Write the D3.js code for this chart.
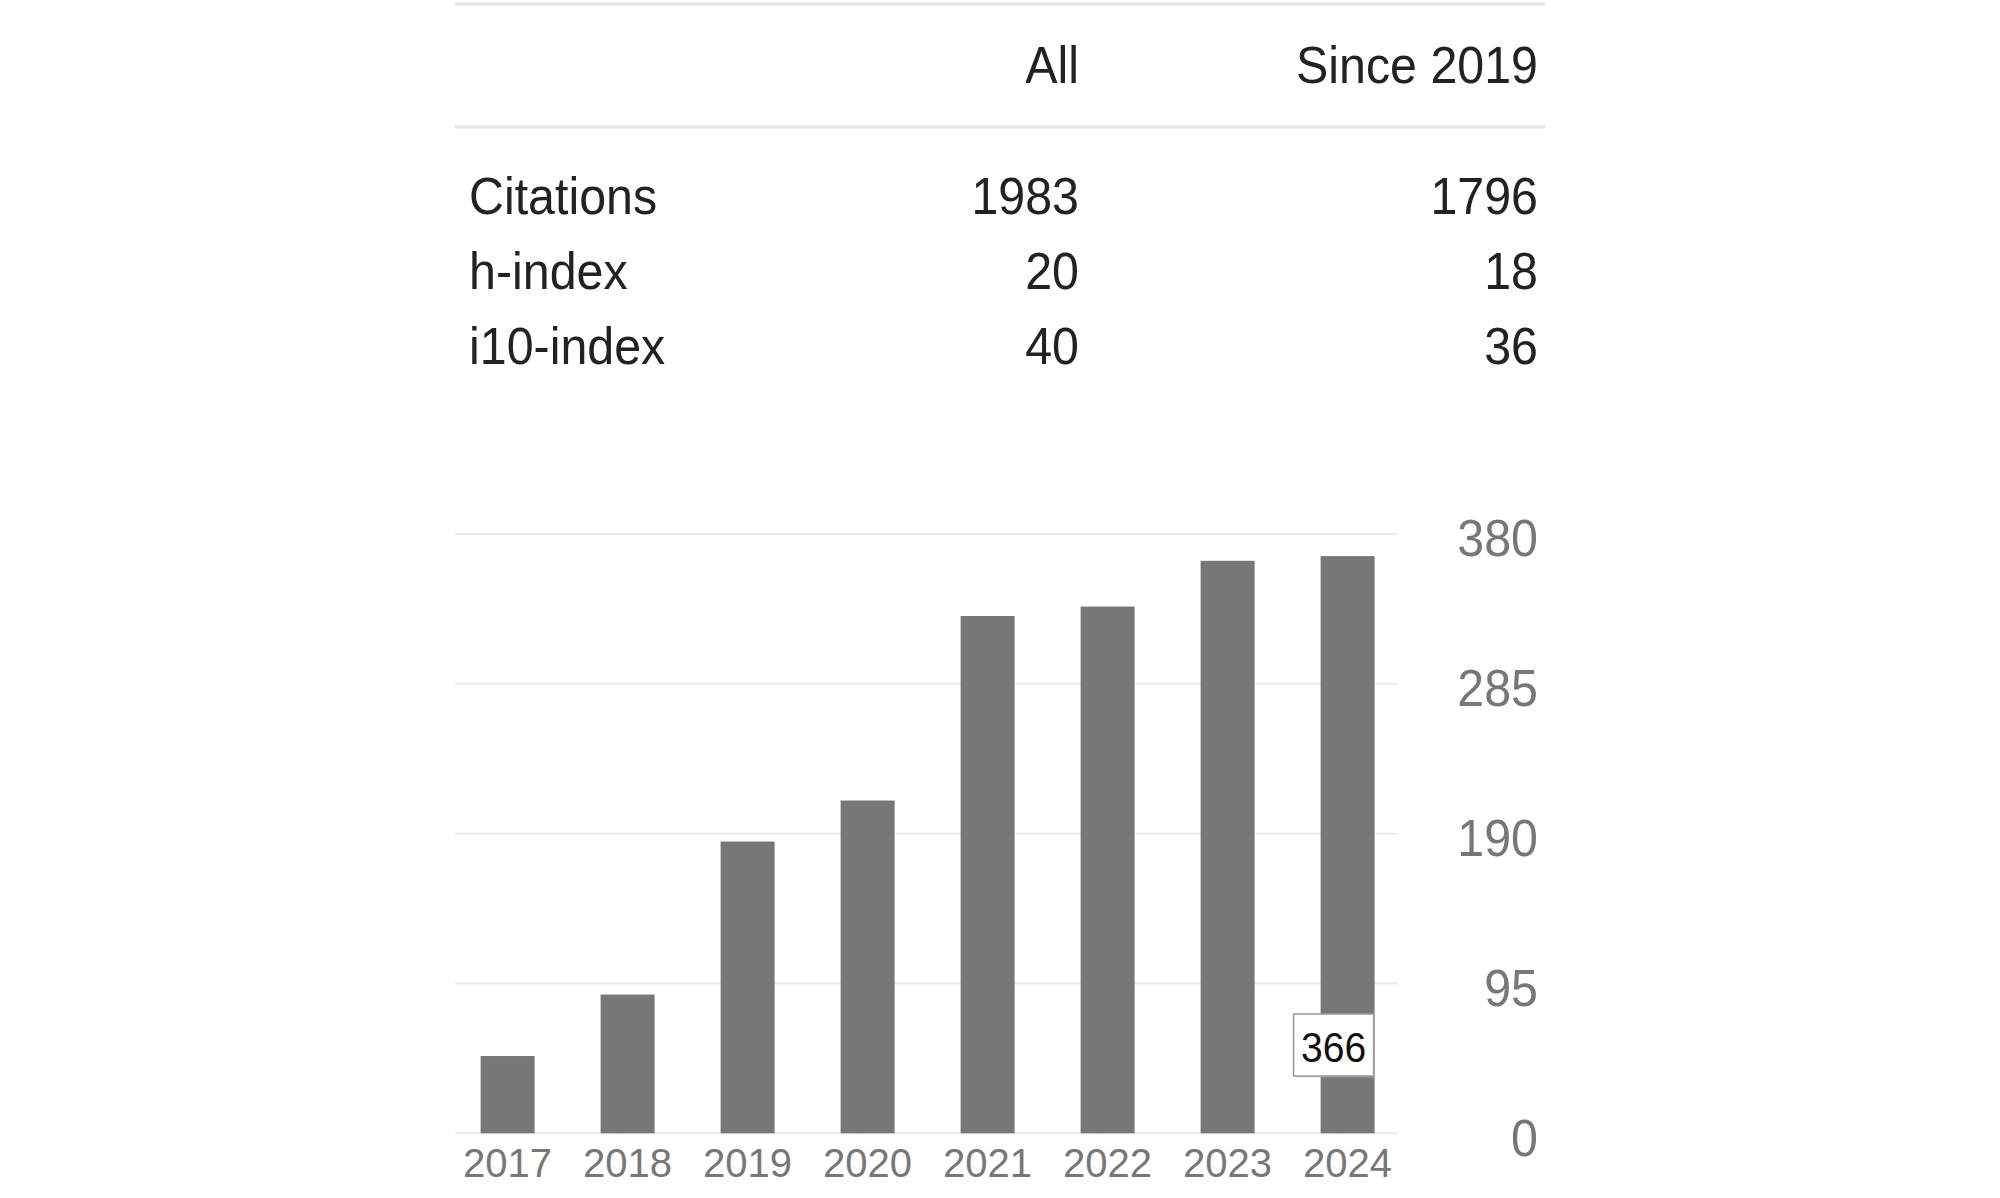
<!DOCTYPE html>
<html>
<head>
<meta charset="utf-8">
<script src="https://cdn.jsdelivr.net/npm/d3@7"></script>
<style>
  html, body { margin: 0; padding: 0; background: #fff; }
  svg { display: block; font-family: "Liberation Sans", Arial, sans-serif; }
</style>
</head>
<body>
<svg id="chart" width="2000" height="1198"></svg>
<script>
// ---- data ----
const tableColumns = ["All", "Since 2019"];
const tableRows = ["Citations", "h-index", "i10-index"];
const allValues = [1983, 20, 40];
const sinceValues = [1796, 18, 36];

const years = ["2017", "2018", "2019", "2020", "2021", "2022", "2023", "2024"];
const citations = [49, 88, 185, 211, 328, 334, 363, 366];
const yTicks = [0, 95, 190, 285, 380];
const tooltipYear = "2024";

// ---- helpers ----
const condense = 0.93;
function squeeze(sel) {
  sel.each(function () {
    const w = this.getComputedTextLength();
    d3.select(this).attr("textLength", w * condense).attr("lengthAdjust", "spacingAndGlyphs");
  });
}

// ---- layout ----
const svg = d3.select("#chart");
const tableLeft = 455, tableRight = 1545;
const tableFont = 52;

// table rules
svg.append("line").attr("x1", tableLeft).attr("x2", tableRight)
  .attr("y1", 4).attr("y2", 4).attr("stroke", "#e4e4e4").attr("stroke-width", 3);
svg.append("line").attr("x1", tableLeft).attr("x2", tableRight)
  .attr("y1", 127).attr("y2", 127).attr("stroke", "#e4e4e4").attr("stroke-width", 3);

const colRight = d3.scaleOrdinal().domain(tableColumns).range([1079, 1538]);
const rowY = d3.scalePoint().domain(tableRows).range([214, 364]);

svg.selectAll("text.hdr").data(tableColumns).join("text")
  .attr("class", "hdr")
  .attr("x", d => colRight(d)).attr("y", 83)
  .attr("text-anchor", "end")
  .attr("font-size", tableFont).attr("fill", "#222")
  .text(d => d).call(squeeze);

svg.selectAll("text.rowlab").data(tableRows).join("text")
  .attr("class", "rowlab")
  .attr("x", 469).attr("y", d => rowY(d))
  .attr("font-size", tableFont).attr("fill", "#222")
  .text(d => d).call(squeeze);

svg.selectAll("text.allv").data(allValues).join("text")
  .attr("class", "allv")
  .attr("x", colRight("All")).attr("y", (d, i) => rowY(tableRows[i]))
  .attr("text-anchor", "end")
  .attr("font-size", tableFont).attr("fill", "#222")
  .text(d => d).call(squeeze);

svg.selectAll("text.sincev").data(sinceValues).join("text")
  .attr("class", "sincev")
  .attr("x", colRight("Since 2019")).attr("y", (d, i) => rowY(tableRows[i]))
  .attr("text-anchor", "end")
  .attr("font-size", tableFont).attr("fill", "#222")
  .text(d => d).call(squeeze);

// ---- chart ----
const y = d3.scaleLinear().domain([0, 380]).range([1133.3, 534]);
const x = d3.scaleBand().domain(years).range([447.6, 1407.6]).paddingInner(0.55).paddingOuter(0.275);

const gridG = svg.append("g");
gridG.selectAll("line").data(yTicks).join("line")
  .attr("x1", 455).attr("x2", 1398)
  .attr("y1", d => y(d)).attr("y2", d => y(d))
  .attr("stroke", "#ececec").attr("stroke-width", 2);

// y axis labels on the right
const yAxis = d3.axisRight(y).tickValues(yTicks).tickSize(0).tickPadding(0);
const yG = svg.append("g").attr("transform", "translate(1538,0)").call(yAxis);
yG.select(".domain").remove();
yG.selectAll("text")
  .attr("text-anchor", "end")
  .attr("font-size", 52)
  .attr("font-family", "Liberation Sans, Arial, sans-serif")
  .attr("fill", "#777")
  .attr("dy", "0.42em")
  .call(squeeze);

// bars
svg.append("g").selectAll("rect").data(citations).join("rect")
  .attr("x", (d, i) => x(years[i]))
  .attr("width", x.bandwidth())
  .attr("y", d => y(d))
  .attr("height", d => y(0) - y(d))
  .attr("fill", "#777");

// x axis labels
const xAxis = d3.axisBottom(x).tickSize(0).tickPadding(0);
const xG = svg.append("g").attr("transform", "translate(0,1133.3)").call(xAxis);
xG.select(".domain").remove();
xG.selectAll("text")
  .attr("font-size", 40)
  .attr("font-family", "Liberation Sans, Arial, sans-serif")
  .attr("fill", "#777")
  .attr("y", 44)
  .attr("dy", 0);

// tooltip on 2024 bar
const ti = years.indexOf(tooltipYear);
const tipCx = x(tooltipYear) + x.bandwidth() / 2 - 14;
const tipW = 80, tipH = 62;
const tipTop = 1014;
const tip = svg.append("g");
tip.append("rect")
  .attr("x", tipCx - tipW / 2 + 1.5).attr("y", tipTop + 1.5)
  .attr("width", tipW).attr("height", tipH)
  .attr("fill", "#bbb").attr("opacity", 0.5);
tip.append("rect")
  .attr("x", tipCx - tipW / 2).attr("y", tipTop)
  .attr("width", tipW).attr("height", tipH)
  .attr("fill", "#fff").attr("stroke", "#999").attr("stroke-width", 1.5);
tip.append("text")
  .attr("x", tipCx).attr("y", tipTop + 48)
  .attr("text-anchor", "middle")
  .attr("font-size", 42).attr("fill", "#111")
  .text(citations[ti])
  .call(squeeze);
</script>
</body>
</html>
